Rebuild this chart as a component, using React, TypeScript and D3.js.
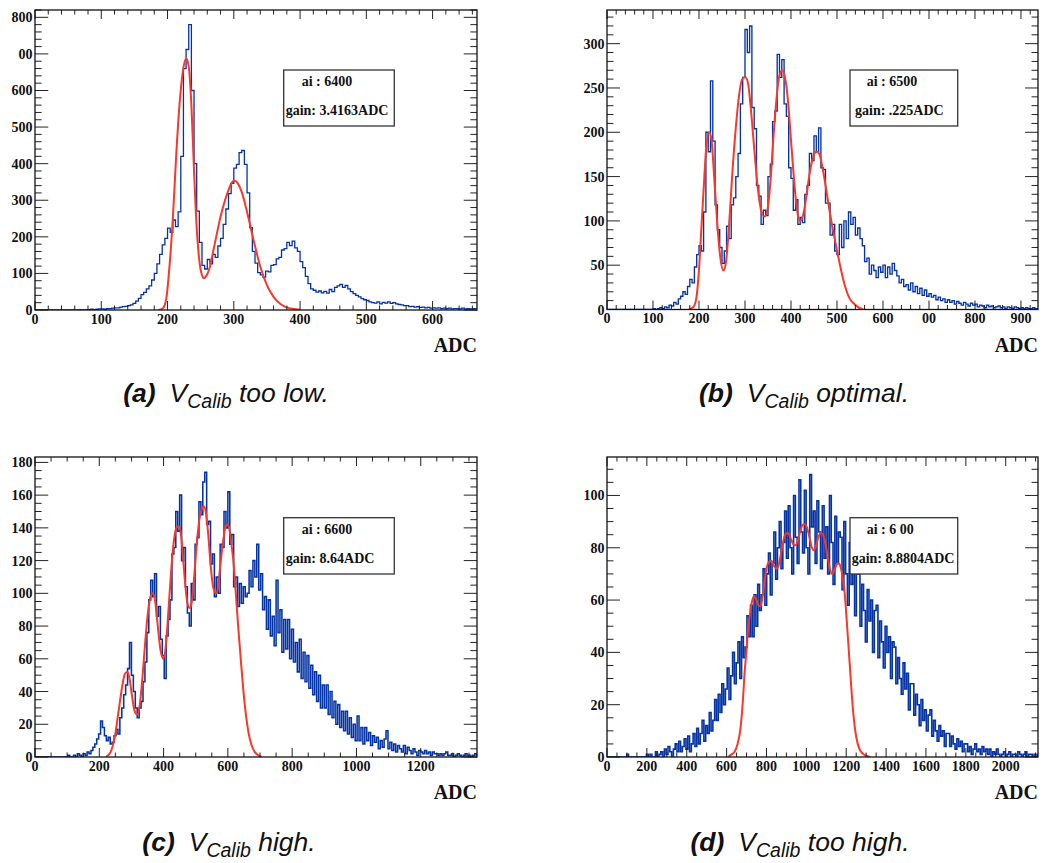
import React from "react";
import * as d3 from "d3";

// ---------------- data ----------------
const BIN_A = 4;
const COUNTS_A = [
  0,0,0,0,0,0,0,0,0,0,
  0,0,0,0,0,0,0,1,0,1,
  1,2,1,2,3,3,2,4,4,5,
  6,6,8,9,10,12,14,18,24,32,
  42,48,58,66,82,100,126,152,178,196,
  224,212,246,228,268,420,660,712,780,600,
  400,270,185,122,112,138,126,152,144,175,
  196,234,276,318,346,388,398,430,436,398,
  320,225,160,128,102,96,90,106,104,122,
  124,140,144,164,168,185,176,188,170,160,
  132,116,92,72,58,54,49,52,47,51,
  46,56,50,62,66,70,62,67,58,50,
  45,40,36,31,28,26,22,20,19,22,
  17,21,19,22,18,20,17,15,14,12,
  12,9,10,8,9,7,8,6,7,5,
  6,5,6,4,5,4,5,3,4,4,
  3,5,3,4,3,4,3,
];
const FIT_A: [number, number][] = [
  [186,0],[193,5],[198,30],[203,120],[208,250],[213,420],[218,560],[223,650],[228,688],
  [232,665],[236,560],[240,380],[244,225],[248,135],[252,95],[255,87],[258,92],[263,112],
  [270,170],[280,255],[290,318],[296,345],[301,353],[306,346],[312,322],[320,268],
  [330,190],[340,118],[350,68],[360,36],[370,17],[380,7],[390,3],[400,1],
];

const BIN_B = 5;
const COUNTS_B = [
  0,0,0,0,0,0,0,0,0,0,
  0,0,0,0,0,0,0,0,0,0,
  1,0,1,2,1,3,2,5,4,8,
  6,12,15,20,17,26,34,30,48,62,
  72,66,110,200,178,258,190,118,90,70,
  52,66,94,80,118,126,150,176,232,262,
  316,290,320,228,204,140,128,96,112,106,
  150,164,212,224,288,262,282,232,218,160,
  148,112,124,96,104,98,130,140,176,168,
  196,178,205,160,158,120,120,84,96,66,
  62,96,70,100,80,110,96,104,84,92,
  80,72,54,58,40,50,44,36,48,42,
  50,36,48,40,52,44,38,30,34,26,
  28,22,30,20,26,18,24,16,22,15,
  18,14,16,11,14,10,12,8,11,8,
  10,6,9,7,5,8,6,4,7,5,
  6,3,5,4,2,5,3,4,2,3,
  4,2,3,1,3,2,1,3,2,1,
  2,1,2,1,1,2,1,1,
];
const FIT_B: [number, number][] = [
  [178,0],[188,3],[194,12],[200,45],[205,90],[210,135],[215,178],[222,200],[227,192],
  [233,150],[240,95],[246,60],[253,44],[259,55],[265,92],[272,150],[280,205],[288,245],
  [294,260],[301,262],[307,254],[313,225],[320,182],[328,136],[336,110],[343,105],
  [349,113],[355,142],[361,188],[368,235],[374,262],[381,270],[387,262],[393,238],
  [399,198],[405,157],[411,122],[416,104],[421,100],[427,108],[433,126],[440,152],
  [447,170],[452,177],[457,178],[462,175],[467,164],[472,150],[477,134],[483,114],
  [489,96],[495,80],[501,64],[507,49],[513,35],[520,22],[528,12],[536,7],[545,3],[557,0],
];

const BIN_C = 6;
const COUNTS_C = [
  0,0,0,0,0,0,0,0,0,0,
  0,0,0,0,0,0,0,1,0,0,
  1,0,2,1,0,2,1,3,2,4,
  6,8,11,14,22,18,13,10,12,8,
  9,13,17,14,24,30,38,44,54,70,
  50,40,30,24,30,34,46,58,76,96,
  108,98,112,86,92,72,62,48,74,84,
  96,124,128,150,138,160,120,128,104,88,
  80,106,96,130,134,156,148,168,174,142,
  144,118,124,98,110,100,130,128,150,140,
  162,130,136,104,110,92,106,94,104,98,
  100,114,104,120,110,130,102,112,90,98,
  78,96,74,86,68,108,76,90,64,84,
  66,84,60,78,58,70,52,72,48,64,
  46,62,42,56,38,52,34,50,30,44,
  30,44,26,40,24,34,20,32,18,28,
  16,28,14,24,12,20,10,25,10,18,
  8,18,10,15,7,13,9,12,5,10,
  6,11,16,5,9,4,8,3,7,5,
  3,7,2,6,4,2,5,3,1,4,
  3,2,4,2,3,1,3,2,2,1,
  2,1,2,3,1,1,2,0,1,2,
  1,0,1,2,1,1,0,1,2,1,
];
const FIT_C: [number, number][] = [
  [221,0],[235,3],[248,12],[260,28],[272,44],[280,51],[287,52],[294,48],[302,37],
  [310,28],[318,26],[326,32],[334,48],[342,68],[350,86],[358,97],[366,100],[374,95],
  [382,80],[390,66],[399,60],[408,70],[416,92],[424,115],[432,132],[440,140],[447,141],
  [454,136],[462,118],[470,100],[477,92],[482,91],[488,95],[496,112],[504,132],[512,146],
  [520,152],[525,153],[531,150],[538,138],[546,118],[554,104],[563,100],[569,103],
  [576,116],[584,130],[592,140],[599,142],[605,139],[611,130],[617,120],[624,102],
  [632,80],[640,60],[648,41],[656,26],[664,15],[674,7],[684,3],[705,0],
];

const BIN_D = 9;
const COUNTS_D = [
  0,0,0,0,0,0,0,0,0,0,
  0,1,0,0,0,0,0,0,0,0,
  0,0,1,0,1,0,0,2,0,1,
  2,0,3,1,4,2,0,3,5,2,
  6,2,4,7,3,8,2,5,9,4,
  11,5,9,14,6,12,9,17,10,14,
  22,14,24,17,28,20,26,34,22,31,
  40,28,36,44,30,46,38,42,54,46,
  58,46,62,50,66,56,62,72,58,70,
  78,62,74,86,68,80,90,72,82,94,
  76,96,80,70,100,84,74,106,86,78,
  102,80,70,108,88,94,74,98,86,72,
  96,76,88,70,100,82,66,92,74,86,
  84,64,90,70,58,82,66,78,54,72,
  70,50,66,56,44,64,52,60,40,56,
  58,38,52,44,34,50,40,46,30,44,
  42,28,38,30,24,36,26,32,18,28,
  28,16,24,20,12,22,14,18,10,16,
  18,8,14,10,6,12,8,10,4,9,
  9,4,8,5,3,7,4,6,2,5,
  5,2,4,1,3,5,2,3,1,4,
  2,3,1,3,0,2,1,3,1,0,
  1,2,0,1,2,0,1,1,0,2,
  1,0,1,2,0,1,1,0,1,0,1,
];
const FIT_D: [number, number][] = [
  [607,0],[625,1],[640,2],[655,5],[668,10],[682,22],[690,32],[699,40],[708,49],[716,54],
  [726,59],[737,61.6],[750,60],[760,58],[769,57.6],[778,60],[790,67],[800,72],[812,74.5],
  [824,75],[838,73],[853,72],[866,75],[880,81],[894,85],[908,85.6],[922,83.5],[935,81.3],
  [946,81],[958,83],[970,86.5],[982,88.8],[992,89],[1002,88],[1014,84.5],[1026,80.5],
  [1037,79],[1048,80.5],[1060,84],[1075,85.6],[1090,83.5],[1104,78],[1118,72],[1129,70],
  [1142,71.5],[1155,74],[1164,74],[1174,72],[1184,68],[1192,63],[1200,55],[1209,45],
  [1218,35],[1226,26],[1234,18],[1242,12],[1252,7],[1264,3.5],[1280,1.5],[1300,0.5],[1318,0],
];

const X_TICKS_A = [0,100,200,300,400,500,600];
const X_LABELS_A = ["0","100","200","300","400","500","600"];
const Y_TICKS_A = [0,100,200,300,400,500,600,700,800];
const Y_LABELS_A = ["0","100","200","300","400","500","600","00","800"];

const X_TICKS_B = [0,100,200,300,400,500,600,700,800,900];
const X_LABELS_B = ["0","100","200","300","400","500","600","00","800","900"];
const Y_TICKS_B = [0,50,100,150,200,250,300];
const Y_LABELS_B = ["0","50","100","150","200","250","300"];

const X_TICKS_C = [0,200,400,600,800,1000,1200];
const X_LABELS_C = ["0","200","400","600","800","1000","1200"];
const Y_TICKS_C = [0,20,40,60,80,100,120,140,160,180];
const Y_LABELS_C = ["0","20","40","60","80","100","120","140","160","180"];

const X_TICKS_D = [0,200,400,600,800,1000,1200,1400,1600,1800,2000];
const X_LABELS_D = ["0","200","400","600","800","1000","1200","1400","1600","1800","2000"];
const Y_TICKS_D = [0,20,40,60,80,100];
const Y_LABELS_D = ["0","20","40","60","80","100"];

const STATS_A = ["ai : 6400", "gain: 3.4163ADC"];
const STATS_B = ["ai : 6500", "gain:  .225ADC"];
const STATS_C = ["ai : 6600", "gain: 8.64ADC"];
const STATS_D = ["ai : 6 00", "gain: 8.8804ADC"];

const CAPTION_TAGS = ["(a)", "(b)", "(c)", "(d)"];
const CAPTION_TAILS = ["too low.", "optimal.", "high.", "too high."];
const X_TITLE = "ADC";

// ---------------- layout ----------------
const PANELS = [
  { counts: COUNTS_A, bin: BIN_A, fit: FIT_A, xMax: 667, yMax: 820, lw: 1.3,
    f: { x0: 35, x1: 477, y0: 10, y1: 310 },
    xTicks: X_TICKS_A, xLabels: X_LABELS_A, xMinor: 20,
    yTicks: Y_TICKS_A, yLabels: Y_LABELS_A, yMinor: 20,
    stats: STATS_A, box: { x: 283.7, y: 70, w: 110.6, h: 56 }, l1: 18, l2: 2,
    cap: 0, capX: 226, capY: 402 },
  { counts: COUNTS_B, bin: BIN_B, fit: FIT_B, xMax: 937, yMax: 338, lw: 1.35,
    f: { x0: 607, x1: 1038, y0: 10, y1: 309.5 },
    xTicks: X_TICKS_B, xLabels: X_LABELS_B, xMinor: 20,
    yTicks: Y_TICKS_B, yLabels: Y_LABELS_B, yMinor: 10,
    stats: STATS_B, box: { x: 850, y: 70, w: 107.7, h: 56 }, l1: 16.7, l2: 5,
    cap: 1, capX: 804, capY: 402 },
  { counts: COUNTS_C, bin: BIN_C, fit: FIT_C, xMax: 1375, yMax: 183.3, lw: 1.55,
    f: { x0: 35, x1: 477, y0: 457, y1: 757 },
    xTicks: X_TICKS_C, xLabels: X_LABELS_C, xMinor: 50,
    yTicks: Y_TICKS_C, yLabels: Y_LABELS_C, yMinor: 5,
    stats: STATS_C, box: { x: 283.7, y: 517.7, w: 110.6, h: 56.3 }, l1: 18, l2: 2,
    cap: 2, capX: 229, capY: 851 },
  { counts: COUNTS_D, bin: BIN_D, fit: FIT_D, xMax: 2162, yMax: 114.7, lw: 1.6,
    f: { x0: 607, x1: 1038, y0: 457, y1: 757 },
    xTicks: X_TICKS_D, xLabels: X_LABELS_D, xMinor: 50,
    yTicks: Y_TICKS_D, yLabels: Y_LABELS_D, yMinor: 5,
    stats: STATS_D, box: { x: 850, y: 517.7, w: 107.7, h: 56.3 }, l1: 16.7, l2: 1.7,
    cap: 3, capX: 800, capY: 851 },
];

const SERIF = "'Liberation Serif', 'Times New Roman', Times, serif";
const SANS = "'Liberation Sans', Arial, sans-serif";
const BLUE = "#0433a6";
const RED = "#f7382a";

function Panel({ p, idx }: { p: any; idx: number }) {
  const { f } = p;
  const x = d3.scaleLinear().domain([0, p.xMax]).range([f.x0, f.x1]);
  const y = d3.scaleLinear().domain([0, p.yMax]).range([f.y1, f.y0]);
  const pts: [number, number][] = p.counts.map((c: number, i: number) => [i * p.bin, c]);
  pts.push([p.counts.length * p.bin, p.counts[p.counts.length - 1]]);
  const hist = d3.line<[number, number]>()
    .x((d) => x(d[0]))
    .y((d) => y(d[1]))
    .curve(d3.curveStepAfter)(pts) || "";
  const fit = d3.line<[number, number]>()
    .x((d) => x(d[0]))
    .y((d) => y(d[1]))
    .curve(d3.curveMonotoneX)(p.fit) || "";

  const fw = f.x1 - f.x0;
  const fh = f.y1 - f.y0;
  const yMaj = 0.03 * fw;
  const xMaj = 0.03 * fh;
  const xMinorTicks = d3.range(0, p.xMax + 1e-6, p.xMinor)
    .filter((v) => !p.xTicks.some((t: number) => Math.abs(t - v) < 1e-6));
  const yMinorTicks = d3.range(0, p.yMax + 1e-6, p.yMinor)
    .filter((v) => !p.yTicks.some((t: number) => Math.abs(t - v) < 1e-6));
  const clipId = `clip-${idx}`;
  const tickStroke = "#222";

  return (
    <g>
      <defs>
        <clipPath id={clipId}>
          <rect x={f.x0} y={f.y0} width={fw} height={fh} />
        </clipPath>
      </defs>
      <g clipPath={`url(#${clipId})`}>
        <path d={hist} fill="none" stroke={BLUE} strokeWidth={p.lw} strokeLinejoin="miter" />
        <path d={fit} fill="none" stroke={RED} strokeWidth={2} />
      </g>
      <g stroke={tickStroke} strokeWidth={1}>
        {p.xTicks.map((t: number) => (
          <g key={`xt${t}`}>
            <line x1={x(t)} x2={x(t)} y1={f.y1} y2={f.y1 - xMaj} />
            <line x1={x(t)} x2={x(t)} y1={f.y0} y2={f.y0 + xMaj} />
          </g>
        ))}
        {xMinorTicks.map((t: number) => (
          <g key={`xm${t}`}>
            <line x1={x(t)} x2={x(t)} y1={f.y1} y2={f.y1 - xMaj / 2} />
            <line x1={x(t)} x2={x(t)} y1={f.y0} y2={f.y0 + xMaj / 2} />
          </g>
        ))}
        {p.yTicks.map((t: number) => (
          <g key={`yt${t}`}>
            <line x1={f.x0} x2={f.x0 + yMaj} y1={y(t)} y2={y(t)} />
            <line x1={f.x1} x2={f.x1 - yMaj} y1={y(t)} y2={y(t)} />
          </g>
        ))}
        {yMinorTicks.map((t: number) => (
          <g key={`ym${t}`}>
            <line x1={f.x0} x2={f.x0 + yMaj / 2} y1={y(t)} y2={y(t)} />
            <line x1={f.x1} x2={f.x1 - yMaj / 2} y1={y(t)} y2={y(t)} />
          </g>
        ))}
      </g>
      <rect x={f.x0} y={f.y0} width={fw} height={fh} fill="none" stroke="#111" strokeWidth={1.3} />
      <g fontFamily={SERIF} fontWeight="bold" fontSize={14} fill="#111">
        {p.xTicks.map((t: number, i: number) => (
          <text key={`xl${t}`} x={x(t)} y={f.y1 + 13.5} textAnchor="middle">{p.xLabels[i]}</text>
        ))}
        {p.yTicks.map((t: number, i: number) => (
          <text key={`yl${t}`} x={f.x0 - 2.5} y={y(t) + 5} textAnchor="end">{p.yLabels[i]}</text>
        ))}
      </g>
      <text x={f.x1} y={f.y1 + 42} textAnchor="end" fontFamily={SERIF} fontWeight="bold" fontSize={20} fill="#111">{X_TITLE}</text>
      <rect x={p.box.x} y={p.box.y} width={p.box.w} height={p.box.h} fill="#fff" stroke="#333" strokeWidth={1.3} />
      <g fontFamily={SERIF} fontWeight="bold" fontSize={14} fill="#111" style={{ whiteSpace: "pre" }}>
        <text x={p.box.x + p.l1} y={p.box.y + 16.3}>{p.stats[0]}</text>
        <text x={p.box.x + p.l2} y={p.box.y + 45.3}>{p.stats[1]}</text>
      </g>
      <text x={p.capX} y={p.capY} textAnchor="middle" fontFamily={SANS} fontStyle="italic" fontSize={26.5} fill="#111" style={{ whiteSpace: "pre" }}>
        <tspan fontWeight="bold">{CAPTION_TAGS[p.cap]}</tspan>
        <tspan dx={14}>V</tspan>
        <tspan fontSize={19.5} dy={6}>Calib</tspan>
        <tspan dy={-6}>{" " + CAPTION_TAILS[p.cap]}</tspan>
      </text>
    </g>
  );
}

export default function App() {
  return (
    <svg
      width={1056}
      height={863}
      viewBox="0 0 1056 863"
      style={{ position: "absolute", left: 0, top: 0, background: "#fff" }}
    >
      <rect x={0} y={0} width={1056} height={863} fill="#fff" />
      {PANELS.map((p, i) => (
        <Panel key={i} p={p} idx={i} />
      ))}
    </svg>
  );
}
